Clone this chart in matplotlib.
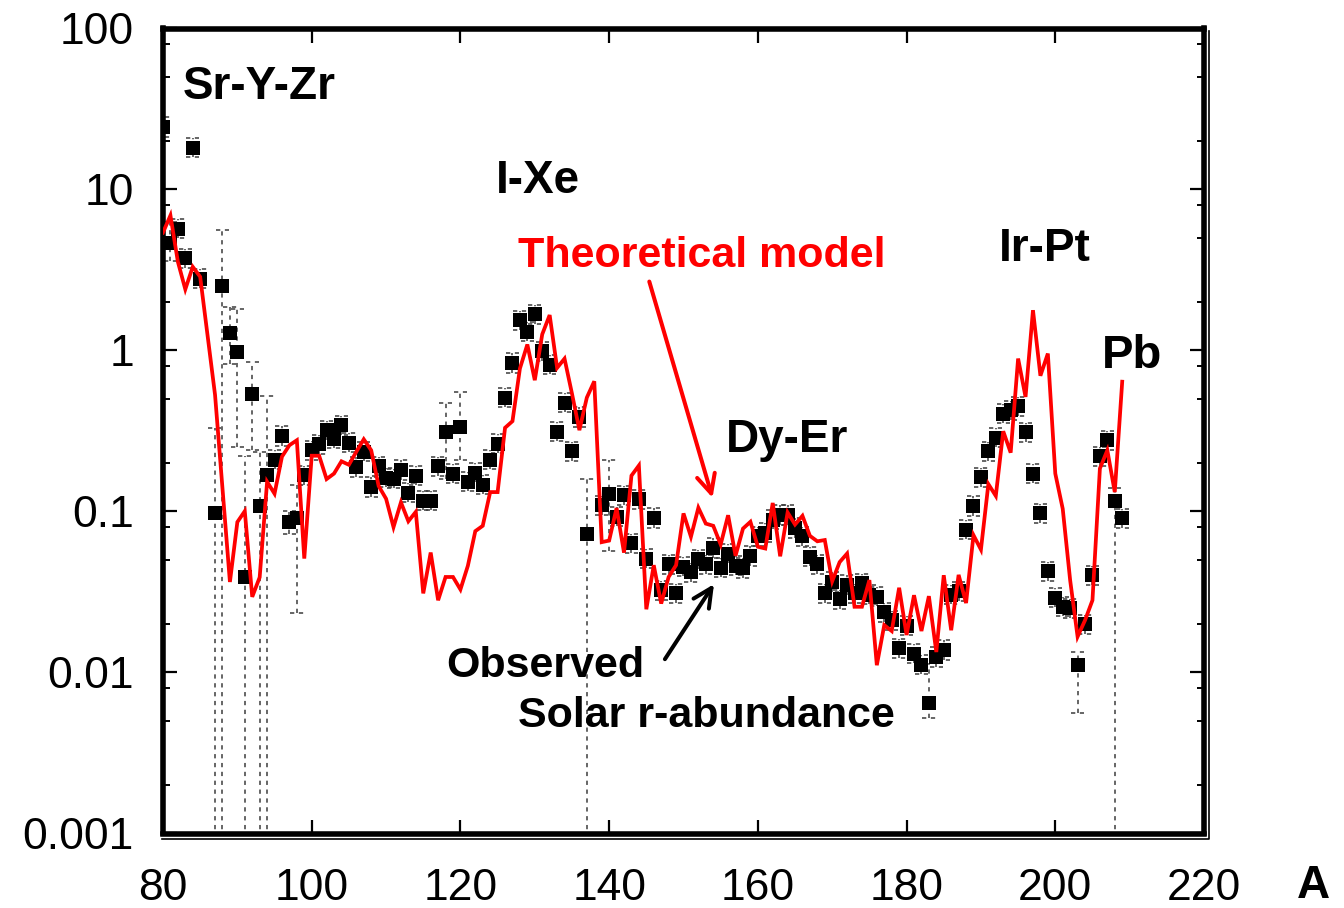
import matplotlib
matplotlib.use("Agg")
import matplotlib.pyplot as plt
from matplotlib.lines import Line2D
from matplotlib.ticker import LogLocator, NullFormatter, FixedLocator

plt.rcParams['font.family'] = ['Liberation Sans', 'DejaVu Sans']

# Theoretical r-process abundances, one value per mass number A = 80 ... 209
model_A = list(range(80, 210))
model_y = [
    5.4, 6.9, 3.56, 2.40, 3.31, 2.87, 1.23, 0.53, 0.139, 0.0365,          # 80-89
    0.086, 0.1005, 0.0295, 0.039, 0.153, 0.129, 0.219, 0.258, 0.277, 0.051,  # 90-99
    0.222, 0.222, 0.159, 0.172, 0.205, 0.195, 0.235, 0.281, 0.240, 0.144,  # 100-109
    0.120, 0.080, 0.114, 0.087, 0.0995, 0.031, 0.0556, 0.0281, 0.0392, 0.0392,  # 110-119
    0.0328, 0.046, 0.0755, 0.0815, 0.132, 0.132, 0.331, 0.364, 0.773, 1.09,  # 120-129
    0.654, 1.26, 1.66, 0.78, 0.89, 0.54, 0.32, 0.51, 0.644, 0.0645,       # 130-139
    0.066, 0.105, 0.0555, 0.167, 0.193, 0.0247, 0.0464, 0.0268, 0.0392, 0.0464,  # 140-149
    0.0973, 0.0697, 0.1055, 0.0841, 0.0815, 0.0624, 0.0948, 0.0531, 0.0783, 0.0863,  # 150-159
    0.0604, 0.0589, 0.113, 0.0527, 0.0986, 0.083, 0.094, 0.0706, 0.0653, 0.0665,  # 160-169
    0.0369, 0.0485, 0.0548, 0.0256, 0.0256, 0.0375, 0.0111, 0.0197, 0.0181, 0.0336,  # 170-179
    0.0171, 0.0302, 0.0181, 0.0298, 0.0134, 0.0402, 0.0183, 0.0404, 0.027, 0.0713,  # 180-189
    0.058, 0.148, 0.125, 0.315, 0.232, 0.891, 0.515, 1.78, 0.697, 0.957,  # 190-199
    0.172, 0.104, 0.0374, 0.0167, 0.0211, 0.0281, 0.185, 0.240, 0.132, 0.640,  # 200-209
]

# Observed solar r-process abundances
obs_A = ([80, 81, 82, 83, 84, 85] + list(range(87, 138)) + list(range(139, 210)))
obs_y = [
    24.5, 4.62, 5.72, 3.73, 18.2, 2.80,                                   # 80-85
    0.098, 2.52, 1.29, 0.98, 0.039, 0.533, 0.108, 0.168, 0.210, 0.295,   # 87-96
    0.0855, 0.0914, 0.168, 0.240, 0.261, 0.32, 0.284, 0.343,             # 97-104
    0.267, 0.189, 0.235, 0.142, 0.191, 0.162, 0.160, 0.181, 0.131, 0.167,  # 105-114
    0.117, 0.117, 0.191, 0.310, 0.172, 0.336, 0.153, 0.174, 0.147, 0.210,  # 115-124
    0.264, 0.51, 0.838, 1.54, 1.31, 1.68, 0.99, 0.818, 0.313, 0.475,     # 125-134
    0.237, 0.387, 0.072,                                                 # 135-137
    0.109, 0.128, 0.093, 0.126, 0.0633, 0.119, 0.051, 0.091, 0.0324, 0.0469,  # 139-148
    0.031, 0.0455, 0.0418, 0.0504, 0.047, 0.0592, 0.0447, 0.0548, 0.046, 0.0446,  # 149-158
    0.053, 0.070, 0.074, 0.089, 0.095, 0.095, 0.079, 0.070, 0.0524, 0.047,  # 159-168
    0.031, 0.0365, 0.0285, 0.0349, 0.031, 0.0358, 0.0305, 0.0296, 0.0236, 0.0211,  # 169-178
    0.0141, 0.0195, 0.0131, 0.0112, 0.0065, 0.0125, 0.0138, 0.0305, 0.032, 0.0773,  # 179-188
    0.108, 0.163, 0.237, 0.287, 0.406, 0.425, 0.451, 0.310, 0.172, 0.0973,  # 189-198
    0.0425, 0.0291, 0.0256, 0.025, 0.0111, 0.0199, 0.0402, 0.220, 0.277, 0.116,  # 199-208
    0.0906,                                                              # 209
]

# Uncertainty ranges that differ from the default; a lower bound of 1e-4
# means the range is open towards zero
err_A = [81, 87, 88, 89, 90, 91, 92, 93, 94, 97, 98, 118, 120, 137, 140, 183, 203, 208]
err_lo = [3.6, 1e-4, 1e-4, 0.82, 0.25, 1e-4, 0.24, 1e-4, 1e-4, 0.073, 0.0235,
          0.16, 0.21, 1e-4, 0.057, 0.0052, 0.0056, 1e-4]
err_hi = [6.3, 0.33, 5.6, 1.85, 1.8, 0.22, 0.85, 0.235, 0.52, 0.10, 0.146,
          0.47, 0.55, 0.16, 0.21, 0.0114, 0.0135, 0.14]
default_err_dex = 0.06

y_ticks = [1e-3, 1e-2, 1e-1, 1, 10, 100]
y_tick_labels = ['0.001', '0.01', '0.1', '1', '10', '100']
x_ticks = [80, 100, 120, 140, 160, 180, 200, 220]

fig = plt.figure(figsize=(13.44, 9.08), dpi=100)
ax_left, ax_right = 163 / 1344, 1204 / 1344
ax_bottom, ax_top = 1 - 833.5 / 908, 1 - 28.5 / 908
ax = fig.add_axes([ax_left, ax_bottom, ax_right - ax_left, ax_top - ax_bottom])
ax.set_yscale('log')
ax.set_xlim(80, 220)
ax.set_ylim(1e-3, 100)

# error bars: dashed grey lines with dashed caps
bounds = dict(zip(err_A, zip(err_lo, err_hi)))
lo, hi = [], []
for a, v in zip(obs_A, obs_y):
    if a in bounds:
        l, h = bounds[a]
    else:
        l, h = v / 10 ** default_err_dex, v * 10 ** default_err_dex
    lo.append(l)
    hi.append(h)
dash = (0, (2.8, 3.0))
err_color = '#3c3c3c'
ax.vlines(obs_A, lo, hi, colors=err_color, linestyles=[dash], lw=1.1, zorder=2)
cap_w = 0.9
ax.hlines(hi, [a - cap_w for a in obs_A], [a + cap_w for a in obs_A],
          colors=err_color, linestyles=[dash], lw=1.1, zorder=2)
ax.hlines(lo, [a - cap_w for a in obs_A], [a + cap_w for a in obs_A],
          colors=err_color, linestyles=[dash], lw=1.1, zorder=2)

ax.plot(obs_A, obs_y, 's', color='black', markersize=10, markeredgewidth=0, zorder=3)
ax.plot(model_A, model_y, '-', color='#ff0000', lw=2.7, zorder=4, solid_joinstyle='miter')

# frame, ticks and labels
for sp in ax.spines.values():
    sp.set_linewidth(4.0)
ax.set_xticks(x_ticks)
ax.set_xticklabels([str(t) for t in x_ticks])
ax.yaxis.set_major_locator(FixedLocator(y_ticks))
ax.set_yticklabels(y_tick_labels)
ax.yaxis.set_minor_locator(LogLocator(base=10, subs=[2, 5, 8], numticks=20))
ax.yaxis.set_minor_formatter(NullFormatter())
ax.tick_params(which='both', direction='in', top=True, right=True, color='black')
ax.tick_params(which='major', length=10, width=1.6, labelsize=32)
ax.tick_params(which='minor', length=5, width=1.4)
ax.tick_params(axis='y', which='major', pad=21)
ax.tick_params(axis='x', which='major', pad=25)

ax.set_xlabel('A', fontsize=33, fontweight='bold', ha='left', va='baseline')
ax.xaxis.set_label_coords(1.089, -0.0797)

# thin offset line along the lower and right edges of the frame
dx, dy = 5 / 1344, 5 / 908
fig.add_artist(Line2D([ax_left - 1 / 1344, ax_right + dx, ax_right + dx],
                      [ax_bottom - dy, ax_bottom - dy, ax_top - 2 / 908],
                      transform=fig.transFigure, color='black', lw=1.2))

# region labels
bold = dict(fontweight='bold', color='black', ha='left', va='baseline', zorder=6)
ax.text(82.6, 36.4, 'Sr-Y-Zr', fontsize=33, **bold)
ax.text(124.8, 9.47, 'I-Xe', fontsize=33, **bold)
ax.text(192.4, 3.62, 'Ir-Pt', fontsize=33, **bold)
ax.text(206.2, 0.783, 'Pb', fontsize=34, **bold)
ax.text(155.7, 0.235, 'Dy-Er', fontsize=33, **bold)
ax.text(118.1, 0.00935, 'Observed', fontsize=31, **bold)
ax.text(127.8, 0.00457, 'Solar r-abundance', fontsize=31, **bold)
ax.text(127.8, 3.28, 'Theoretical model', fontsize=31, fontweight='bold',
        color='#ff0000', ha='left', va='baseline', zorder=6)

# pointers from the labels to the curves
ax.annotate('', xy=(153.9, 0.1217), xytext=(145.4, 2.68),
            arrowprops=dict(arrowstyle='->,head_length=0.45,head_width=0.22',
                            color='#ff0000', lw=2.9, mutation_scale=30,
                            shrinkA=0, shrinkB=0), zorder=6)
ax.annotate('', xy=(154.1, 0.0354), xytext=(147.5, 0.0121),
            arrowprops=dict(arrowstyle='->,head_length=0.45,head_width=0.22',
                            color='black', lw=2.9, mutation_scale=30,
                            shrinkA=0, shrinkB=0), zorder=6)

fig.savefig('out.png', dpi=100)
